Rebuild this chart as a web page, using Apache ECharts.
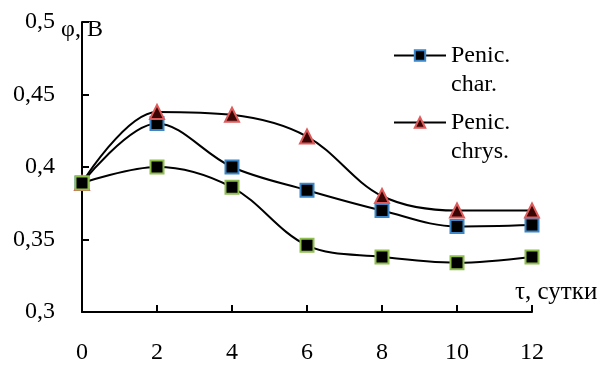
<!DOCTYPE html>
<html>
<head>
<meta charset="utf-8">
<script src="https://cdn.jsdelivr.net/npm/echarts@6/dist/echarts.min.js"></script>
<style>
  html, body { margin: 0; padding: 0; background: #fff; }
  #chart { width: 602px; height: 365px; }
</style>
</head>
<body>
<div id="chart"></div>
<script>
// время, сутки
const days = [0, 2, 4, 6, 8, 10, 12];
// потенциал, В
const penicChar = [0.389, 0.43, 0.4, 0.384, 0.37, 0.359, 0.36];
const penicChrys = [0.389, 0.438, 0.436, 0.421, 0.38, 0.37, 0.37];
const control = [0.389, 0.4, 0.386, 0.346, 0.338, 0.334, 0.338];

const FONT = '"Liberation Serif", "Times New Roman", serif';

const chart = echarts.init(document.getElementById('chart'));

function pairs(vals) {
  return days.map((d, i) => [d, vals[i]]);
}

function makeSeries(name, vals, symbol, size, fill, border) {
  return {
    name: name,
    type: 'line',
    data: pairs(vals),
    smooth: 0.35,
    symbol: symbol,
    symbolSize: size,
    lineStyle: { color: '#000', width: 2 },
    itemStyle: { color: fill, borderColor: border, borderWidth: 2 },
    emphasis: { disabled: true },
  };
}

const option = {
  backgroundColor: '#fff',
  animation: false,
  grid: { left: 82, right: 70, top: 22, bottom: 51 },
  legend: {
    orient: 'vertical',
    left: 388,
    top: 7,
    itemWidth: 52,
    itemHeight: 13,
    itemGap: -20,
    data: ['Penic.\nchar.', 'Penic.\nchrys.'],
    // пустая первая строка, чтобы значок стоял у первой строки подписи
    formatter: (name) => '\n' + name,
    textStyle: {
      fontFamily: FONT,
      fontSize: 24,
      color: '#000',
      lineHeight: 29,
    },
  },
  xAxis: {
    type: 'value',
    min: 0,
    max: 12,
    interval: 2,
    name: 'τ, сутки',
    nameLocation: 'end',
    nameGap: -17,
    nameTextStyle: {
      fontFamily: FONT,
      fontSize: 25,
      color: '#000',
      align: 'left',
      verticalAlign: 'bottom',
      padding: [0, 0, 7, 0],
    },
    axisLine: { lineStyle: { color: '#000', width: 2 } },
    axisTick: { inside: true, length: 7, lineStyle: { color: '#000', width: 2 } },
    axisLabel: { fontFamily: FONT, fontSize: 24, color: '#000', margin: 29 },
    splitLine: { show: false },
  },
  yAxis: {
    type: 'value',
    min: 0.3,
    max: 0.5,
    interval: 0.05,
    name: 'φ, В',
    nameLocation: 'end',
    nameGap: -8,
    nameTextStyle: {
      fontFamily: FONT,
      fontSize: 24,
      color: '#000',
      align: 'center',
      verticalAlign: 'middle',
    },
    axisLine: { show: true, lineStyle: { color: '#000', width: 2 } },
    axisTick: { show: true, inside: true, length: 7, lineStyle: { color: '#000', width: 2 } },
    axisLabel: {
      fontFamily: FONT,
      fontSize: 24,
      color: '#000',
      margin: 27,
      formatter: (v) => String(+v.toFixed(2)).replace('.', ','),
    },
    splitLine: { show: false },
  },
  series: [
    makeSeries('Penic.\nchar.', penicChar, 'rect', 13, '#000', '#3d87c8'),
    makeSeries('Penic.\nchrys.', penicChrys, 'triangle', 14, '#3a0505', '#e05a5a'),
    makeSeries('control', control, 'rect', 13, '#000', '#8fbf4f'),
  ],
};

chart.setOption(option);
</script>
</body>
</html>
